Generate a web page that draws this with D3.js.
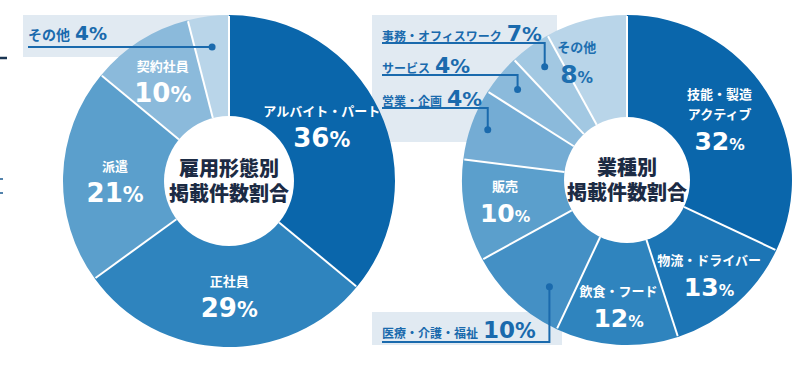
<!DOCTYPE html>
<html>
<head>
<meta charset="utf-8">
<script src="https://cdn.jsdelivr.net/npm/d3@7"></script>
<style>
  body { margin: 0; background: #fff; }
  svg { display: block; }
</style>
</head>
<body>
<svg id="chart" width="800" height="377"></svg>
<script>
// 雇用形態別
var empNames = ['アルバイト・パート', '正社員', '派遣', '契約社員', 'その他'];
var empValues = [36, 29, 21, 10, 4];
var empTitle = ['雇用形態別', '掲載件数割合'];

// 業種別
var jobNames = ['技能・製造|アクティブ', '物流・ドライバー', '飲食・フード', '医療・介護・福祉', '販売',
                '事務・オフィスワーク', 'サービス', '営業・企画', 'その他'];
var jobValues = [32, 13, 12, 10, 10, 7, 4, 4, 8];
var jobTitle = ['業種別', '掲載件数割合'];

var empColors = ['#0a66ab', '#2f84be', '#5b9fcc', '#8bbadb', '#b9d5e9'];
var jobColors = ['#0a66ab', '#1c75b5', '#2f84be', '#4490c5', '#5b9fcc', '#74acd4', '#8bbadb', '#a2c8e2', '#b9d5e9'];

var jp = '"Noto Sans CJK JP", "Noto Sans", sans-serif';
var num = '"DejaVu Sans", sans-serif';
var blue = '#1a6aad';
var boxFill = '#e1eaf2';

var svg = d3.select('#chart');
svg.append('rect').attr('width', 800).attr('height', 377).attr('fill', '#fff');

// stray marks at left edge
svg.append('line').attr('x1', 0).attr('x2', 7).attr('y1', 58).attr('y2', 58)
    .attr('stroke', '#1a3552').attr('stroke-width', 2.5);
[179, 193].forEach(y => {
    svg.append('line').attr('x1', 0).attr('x2', 3).attr('y1', y).attr('y2', y)
        .attr('stroke', '#1a5a90').attr('stroke-width', 1.5);
});

// callout boxes (behind donuts)
svg.append('rect').attr('x', 23).attr('y', 15).attr('width', 206).attr('height', 42).attr('fill', boxFill);
svg.append('rect').attr('x', 372).attr('y', 15).attr('width', 185).attr('height', 127).attr('fill', boxFill);
svg.append('rect').attr('x', 372).attr('y', 312).attr('width', 190).attr('height', 33).attr('fill', boxFill);

function pctText(sel, value, size, pctScale) {
    sel.append('tspan').text(value);
    sel.append('tspan').attr('font-size', size * pctScale).text('%');
}

function donut(cx, cy, rOut, rIn, values, names, colors, title, opt) {
    var g = svg.append('g').attr('transform', 'translate(' + cx + ',' + cy + ')');
    var arcs = d3.pie().sort(null).value(d => d)(values);
    var arc = d3.arc().innerRadius(rIn - 1).outerRadius(rOut);
    var labelArc = d3.arc().innerRadius(118).outerRadius(118);

    g.selectAll('path.slice')
        .data(arcs)
        .join('path')
        .attr('class', 'slice')
        .attr('d', arc)
        .attr('fill', (d, i) => colors[i]);

    // white separators
    g.selectAll('line.sep')
        .data(arcs)
        .join('line')
        .attr('class', 'sep')
        .attr('x1', d => d3.pointRadial(d.startAngle, rIn)[0])
        .attr('y1', d => d3.pointRadial(d.startAngle, rIn)[1])
        .attr('x2', d => d3.pointRadial(d.startAngle, rOut - 1)[0])
        .attr('y2', d => d3.pointRadial(d.startAngle, rOut - 1)[1])
        .attr('stroke', '#fff')
        .attr('stroke-width', 2);

    g.append('circle').attr('r', rIn).attr('fill', '#fff');

    // centre title, two lines in one text
    var tt = g.append('text')
        .attr('text-anchor', 'middle')
        .attr('font-family', jp)
        .attr('font-weight', 900)
        .attr('font-size', 20)
        .attr('fill', '#1c2b44');
    title.forEach((t, i) => {
        tt.append('tspan')
            .attr('x', 0)
            .attr('y', -5 + i * 25)
            .text(t);
    });

    // slice labels
    arcs.forEach((d, i) => {
        var tw = opt.tweak[i];
        if (!tw) return;
        var c = labelArc.centroid(d);
        var lines = names[i].split('|');
        var total = 11 + 20 * (lines.length - 1) + 31;
        var x = c[0] + tw[0];
        var top = c[1] + tw[1] - total / 2;
        var col = tw[2] || '#fff';
        lines.forEach((l, j) => {
            g.append('text')
                .attr('x', x)
                .attr('y', top + 11 + j * 20)
                .attr('text-anchor', 'middle')
                .attr('font-family', jp)
                .attr('font-weight', 700)
                .attr('font-size', 13)
                .attr('fill', col)
                .text(l);
        });
        var t = g.append('text')
            .attr('x', x)
            .attr('y', top + total)
            .attr('text-anchor', 'middle')
            .attr('font-family', num)
            .attr('font-weight', 700)
            .attr('font-size', opt.numSize)
            .attr('fill', col);
        pctText(t, d.data, opt.numSize, opt.pctScale);
    });

    return {g: g, arcs: arcs};
}

var left = donut(229, 181, 166, 65, empValues, empNames, empColors, empTitle, {
    numSize: 26, pctScale: 0.8,
    tweak: [[-14, -5], [4, -3], [4, 4], [-3, 0], null]
});

var right = donut(627, 180, 165, 63, jobValues, jobNames, jobColors, jobTitle, {
    numSize: 25, pctScale: 0.62,
    tweak: [[-7, 2], [4, 6], [-1, 8], null, [-6, -1], null, null, null, [-21, -4, '#1d6fb0']]
});

// callouts: text row + leader line to a dot inside a slice
function callout(ctr, cx, cy, arcD, frac, r, name, value, tx, lineY, nameSize, numSize) {
    var a = arcD.startAngle + frac * (arcD.endAngle - arcD.startAngle);
    var p = d3.pointRadial(a, r);
    var dx = cx + p[0], dy = cy + p[1];
    var path = d3.path();
    path.moveTo(tx, lineY);
    path.lineTo(dx, lineY);
    path.lineTo(dx, dy);
    svg.append('path').attr('d', path.toString()).attr('fill', 'none')
        .attr('stroke', blue).attr('stroke-width', 2);
    svg.append('circle').attr('cx', dx).attr('cy', dy).attr('r', 3.5).attr('fill', blue);
    var t = svg.append('text')
        .attr('x', tx)
        .attr('y', ctr)
        .attr('font-family', jp)
        .attr('font-weight', 700)
        .attr('font-size', nameSize)
        .attr('fill', blue);
    t.append('tspan').text(name);
    var n = t.append('tspan').attr('dx', 5).attr('font-family', num).attr('font-size', numSize);
    n.text(value);
    t.append('tspan').attr('font-family', num).attr('font-size', numSize * 0.9).text('%');
}

// left: その他
var la = left.arcs[4];
var lp = d3.pointRadial((la.startAngle + la.endAngle) / 2, 135);
callout(40, 229, 181, la, 0.5, 135, empNames[4], empValues[4], 28, 181 + lp[1], 14, 20);

// right top box rows
var rowY = [41, 73, 106];
var rowLine = [43, 75, 108];
var rowText = [5, 6, 7];
var rowDot = [7, 6, 5];
var rowDotR = [140, 142, 148];
rowText.forEach((k, i) => {
    var d = right.arcs[rowDot[i]];
    callout(rowY[i], 627, 180, d, 0.5, rowDotR[i], jobNames[k], jobValues[k], 382, rowLine[i], 12, 22);
});

// right bottom: 医療・介護・福祉
callout(338, 627, 180, right.arcs[3], 0.3, 132, jobNames[3], jobValues[3], 382, 342, 12, 23);
</script>
</body>
</html>
